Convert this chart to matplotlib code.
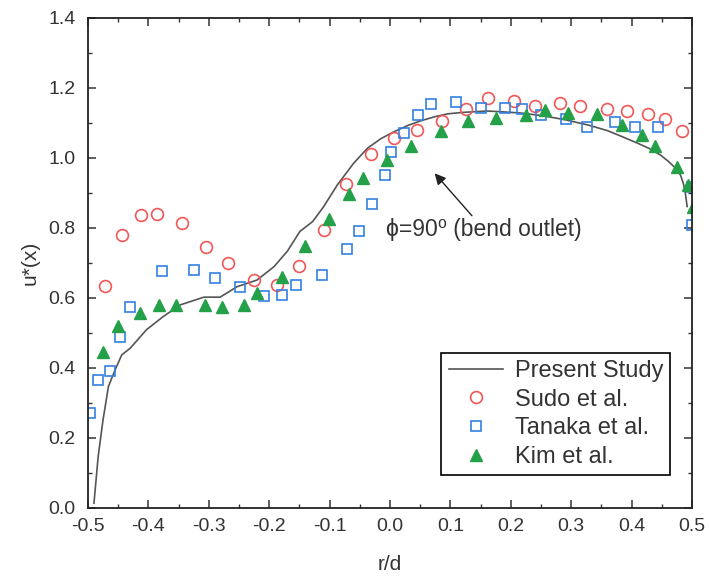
import numpy as np
import matplotlib
matplotlib.use("Agg")
import matplotlib.pyplot as plt
from matplotlib.ticker import MultipleLocator

plt.rcParams['font.family'] = ['Liberation Sans', 'DejaVu Sans']
plt.rcParams['axes.unicode_minus'] = False

# Present Study (solid line)
present_x = [-0.490, -0.483, -0.475, -0.466, -0.455, -0.444, -0.430, -0.403, -0.375, -0.347,
             -0.308, -0.281, -0.253, -0.220, -0.192, -0.170, -0.149, -0.128, -0.110, -0.087,
             -0.060, -0.037, -0.015, 0.007, 0.030, 0.051, 0.075, 0.096, 0.120, 0.140,
             0.160, 0.184, 0.218, 0.255, 0.290, 0.328, 0.360, 0.384, 0.410, 0.428,
             0.448, 0.461, 0.472, 0.481, 0.486, 0.489, 0.492]
present_y = [0.013, 0.147, 0.251, 0.347, 0.394, 0.437, 0.456, 0.509, 0.547, 0.580,
             0.602, 0.602, 0.632, 0.651, 0.689, 0.733, 0.790, 0.818, 0.860, 0.923,
             0.985, 1.028, 1.055, 1.075, 1.093, 1.106, 1.118, 1.126, 1.130, 1.132,
             1.134, 1.132, 1.128, 1.120, 1.109, 1.094, 1.078, 1.061, 1.042, 1.028,
             1.008, 0.990, 0.972, 0.951, 0.925, 0.899, 0.861]

# Sudo et al. (open circles)
sudo_x = [-0.472, -0.444, -0.412, -0.386, -0.344, -0.304, -0.268, -0.225, -0.187, -0.151,
          -0.109, -0.073, -0.032, 0.006, 0.045, 0.086, 0.126, 0.163, 0.206, 0.240,
          0.281, 0.315, 0.359, 0.392, 0.428, 0.455, 0.483]
sudo_y = [0.634, 0.780, 0.838, 0.839, 0.815, 0.745, 0.701, 0.651, 0.637, 0.692,
          0.794, 0.926, 1.011, 1.056, 1.080, 1.106, 1.139, 1.170, 1.164, 1.149,
          1.158, 1.147, 1.140, 1.135, 1.126, 1.111, 1.077]

# Tanaka et al. (open squares)
tanaka_x = [-0.497, -0.483, -0.463, -0.447, -0.430, -0.378, -0.325, -0.289, -0.249, -0.208,
            -0.178, -0.156, -0.113, -0.071, -0.051, -0.029, -0.009, 0.002, 0.023, 0.046,
            0.068, 0.110, 0.151, 0.190, 0.219, 0.250, 0.292, 0.326, 0.372, 0.405,
            0.444, 0.500, 0.500]
tanaka_y = [0.271, 0.364, 0.392, 0.488, 0.575, 0.678, 0.680, 0.656, 0.632, 0.604,
            0.609, 0.637, 0.666, 0.740, 0.791, 0.869, 0.951, 1.018, 1.070, 1.123,
            1.154, 1.159, 1.142, 1.142, 1.139, 1.123, 1.111, 1.089, 1.104, 1.089,
            1.089, 0.918, 0.809]

# Kim et al. (filled triangles)
kim_x = [-0.475, -0.450, -0.414, -0.383, -0.354, -0.307, -0.278, -0.242, -0.220, -0.178,
         -0.140, -0.101, -0.068, -0.044, -0.005, 0.035, 0.085, 0.129, 0.175, 0.225,
         0.256, 0.294, 0.343, 0.384, 0.417, 0.439, 0.475, 0.494, 0.501]
kim_y = [0.444, 0.520, 0.556, 0.580, 0.580, 0.580, 0.575, 0.580, 0.613, 0.661,
         0.747, 0.825, 0.897, 0.942, 0.994, 1.034, 1.077, 1.106, 1.113, 1.123,
         1.137, 1.129, 1.126, 1.094, 1.066, 1.034, 0.973, 0.923, 0.859]

fig = plt.figure(figsize=(7.09, 5.79), dpi=100)
ax = fig.add_axes([0.124, 0.123, 0.852, 0.846])

ax.plot(present_x, present_y, color='#555555', lw=1.2, label='Present Study')
ax.plot(sudo_x, sudo_y, 'o', mfc='none', mec='#f25757', mew=1.2, ms=8.5, label='Sudo et al.')
ax.plot(tanaka_x, tanaka_y, 's', mfc='none', mec='#3380e3', mew=1.2, ms=7.5, label='Tanaka et al.')
ax.plot(kim_x, kim_y, '^', color='#24a148', ms=9, label='Kim et al.')

ax.set_xlim(-0.5, 0.5)
ax.set_ylim(0.0, 1.4)
ax.xaxis.set_major_locator(MultipleLocator(0.1))
ax.xaxis.set_minor_locator(MultipleLocator(0.05))
ax.yaxis.set_major_locator(MultipleLocator(0.2))
ax.yaxis.set_minor_locator(MultipleLocator(0.1))
ax.tick_params(which='both', direction='in', top=True, right=True, labelsize=14, colors='#333333')
ax.tick_params(which='major', length=6, width=1.1)
ax.tick_params(which='minor', length=3, width=1.0)
ax.tick_params(axis='x', which='major', pad=7)
ax.tick_params(axis='y', which='major', pad=9)
for s in ax.spines.values():
    s.set_linewidth(1.3)
    s.set_color('#222222')

ax.set_xlabel('r/d', fontsize=15, color='#333333', labelpad=15)
ax.set_ylabel('u*(x)', fontsize=15, color='#333333', labelpad=6)

ax.annotate('ϕ=90⁰ (bend outlet)', xy=(0.074, 0.956), xytext=(-0.006, 0.794),
            fontsize=16.5, color='#333333', va='center', ha='left',
            arrowprops=dict(arrowstyle='-|>', color='#222222', lw=1.0,
                            shrinkA=0, shrinkB=0, relpos=(0.45, 1.0)))

leg = ax.legend(loc='lower right', bbox_to_anchor=(0.964, 0.067), fontsize=17,
                fancybox=False, edgecolor='black', framealpha=1, handlelength=2.3,
                labelspacing=0.28, borderpad=0.3, handletextpad=0.5, borderaxespad=0)
leg.get_frame().set_linewidth(1.2)
for t in leg.get_texts():
    t.set_color('#333333')

fig.savefig('out.png', dpi=100)
